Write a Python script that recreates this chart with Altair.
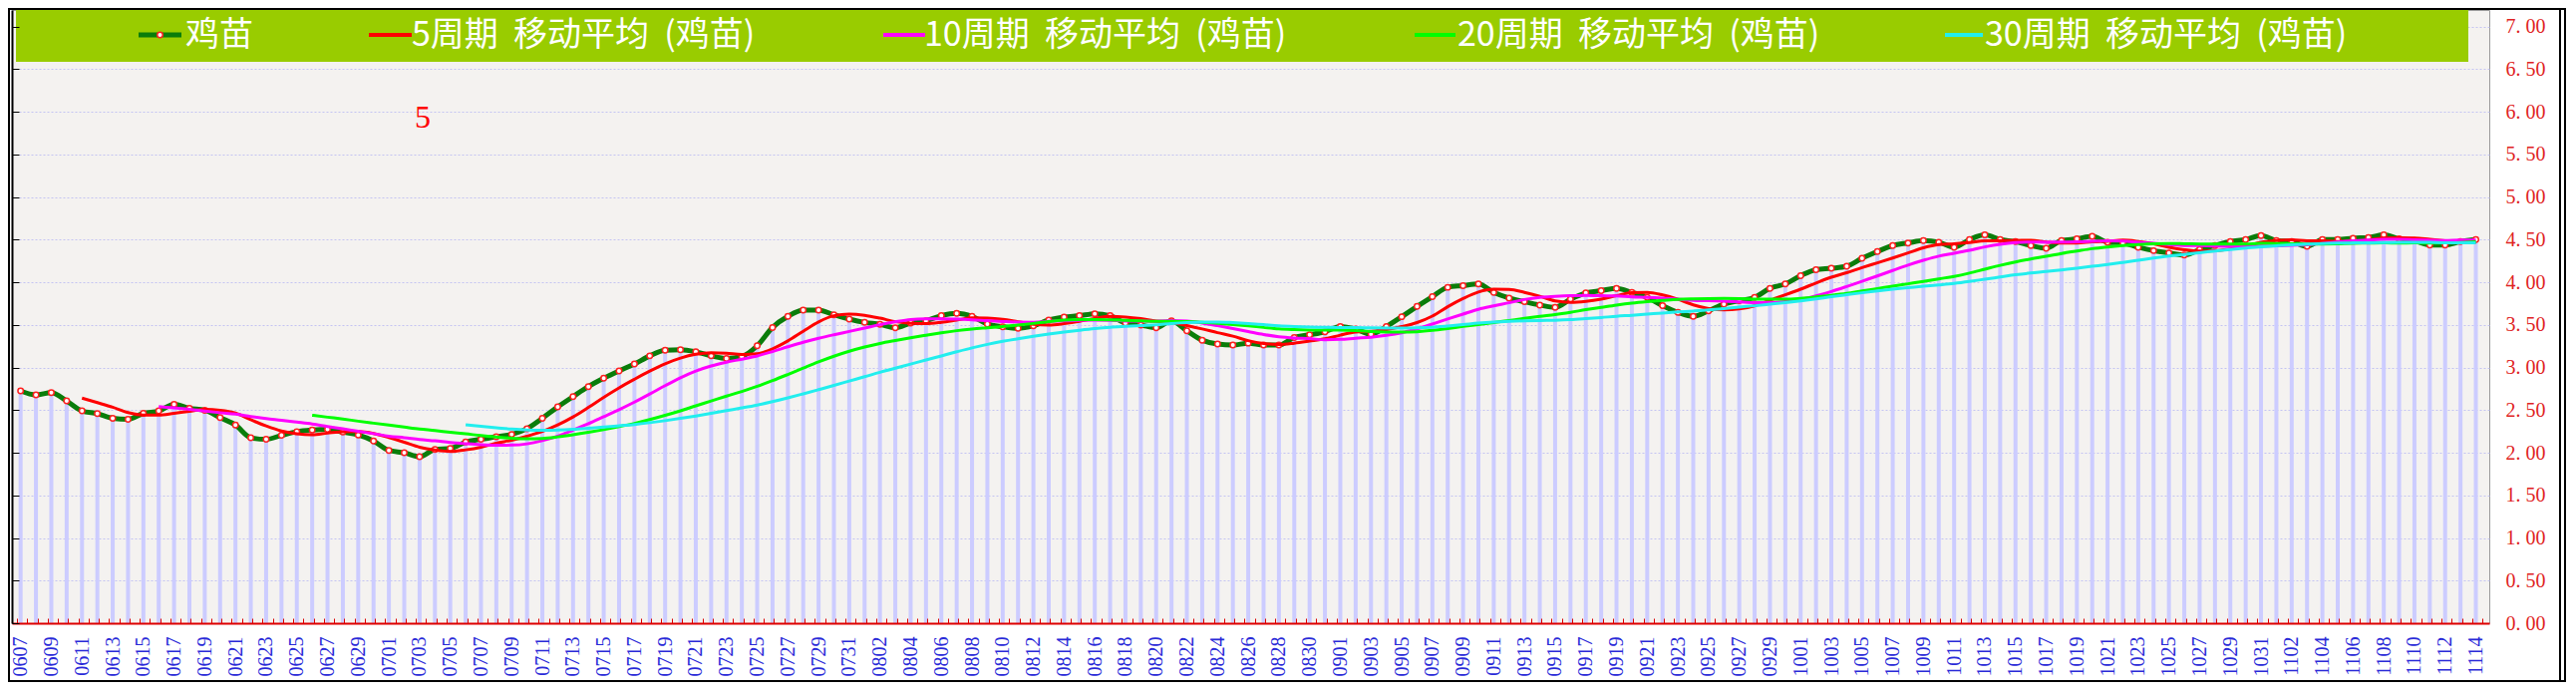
import datetime
import altair as alt
import pandas as pd

# ---------------- data ----------------
START = datetime.date(2023, 6, 7)
N_DAYS = 161
dates = [(START + datetime.timedelta(days=i)).strftime("%m%d") for i in range(N_DAYS)]

# 0607 - 0717
prices_a = [2.725, 2.678, 2.705, 2.607, 2.49, 2.458, 2.404, 2.392, 2.462, 2.49,
            2.568, 2.521, 2.498, 2.411, 2.325, 2.176, 2.157, 2.204, 2.247, 2.266,
            2.274, 2.243, 2.208, 2.137, 2.027, 2.0, 1.953, 2.039, 2.051, 2.125,
            2.157, 2.188, 2.215, 2.282, 2.404, 2.537, 2.658, 2.776, 2.874, 2.96,
            3.04]
# 0718 - 0826
prices_b = [3.136, 3.203, 3.207, 3.183, 3.136, 3.105, 3.129, 3.254, 3.469, 3.599,
            3.673, 3.673, 3.618, 3.567, 3.528, 3.505, 3.466, 3.52, 3.548, 3.607,
            3.634, 3.599, 3.509, 3.477, 3.458, 3.489, 3.556, 3.591, 3.607, 3.63,
            3.607, 3.52, 3.497, 3.466, 3.548, 3.43, 3.32, 3.274, 3.262, 3.285]
# 0827 - 1005
prices_c = [3.262, 3.262, 3.352, 3.383, 3.418, 3.48, 3.45, 3.39, 3.48, 3.595,
            3.716, 3.83, 3.94, 3.96, 3.98, 3.88, 3.814, 3.771, 3.732, 3.705,
            3.80, 3.873, 3.90, 3.928, 3.88, 3.822, 3.724, 3.646, 3.599, 3.665,
            3.744, 3.783, 3.822, 3.928, 3.98, 4.077, 4.147, 4.163, 4.187, 4.28]
# 1006 - 1114
prices_d = [4.359, 4.43, 4.46, 4.488, 4.469, 4.41, 4.5, 4.555, 4.5, 4.476,
            4.43, 4.398, 4.488, 4.508, 4.539, 4.469, 4.46, 4.41, 4.37, 4.343,
            4.32, 4.382, 4.43, 4.476, 4.5, 4.547, 4.488, 4.476, 4.421, 4.5,
            4.5, 4.516, 4.524, 4.555, 4.508, 4.488, 4.437, 4.437, 4.476, 4.5]

prices = prices_a + prices_b + prices_c + prices_d

ma_periods = [5, 10, 20, 30]
NB = "\u00a0"
legend_labels = ["鸡苗",
                 "5周期" + NB + NB + "移动平均" + NB + NB + "(鸡苗)",
                 "10周期" + NB + NB + "移动平均" + NB + NB + "(鸡苗)",
                 "20周期" + NB + NB + "移动平均" + NB + NB + "(鸡苗)",
                 "30周期" + NB + NB + "移动平均" + NB + NB + "(鸡苗)"]
y_tick_values = [i * 0.5 for i in range(15)]
annotation = "5"

df = pd.DataFrame({"idx": list(range(len(prices))), "date": dates, "price": prices})

# ---------------- styling ----------------
W, H = 2485, 615
MAIN_GREEN = "#0a7d0a"
MA_COLORS = ["#ff0000", "#ff00ff", "#00ff00", "#22eeee"]
LEGEND_BG = "#99cc00"
BAR_COLOR = "#ccccff"
GRID_COLOR = "#c4c4f2"
SERIF = "Liberation Serif"
CJK = "Noto Sans CJK SC"

xs = alt.Scale(domain=[-0.239, 160.55], nice=False, zero=False)
ys = alt.Scale(domain=[0, 7.193], nice=False, zero=False)

label_expr = "[" + ",".join("'%s'" % d for d in dates) + "][round(datum.value)]"
tick_grid = [round(-0.239 + k * 2.0 / 3.0, 4) for k in range(242)]

base = alt.Chart(df)

bars = base.mark_bar(size=4, color=BAR_COLOR).encode(
    x=alt.X("idx:Q", scale=xs, axis=alt.Axis(
        orient="bottom", values=list(range(0, len(dates), 2)), labelExpr=label_expr,
        labelAngle=270, labelAlign="right", labelBaseline="middle", labelPadding=13,
        labelColor="#2a2ad8", labelFont=SERIF, labelFontSize=20, labelOverlap=False,
        labelFlush=False, ticks=False, domain=False, grid=False, title=None)),
    y=alt.Y("price:Q", scale=ys, axis=alt.Axis(
        orient="right", values=y_tick_values,
        labelExpr="replace(format(datum.value, '.2f'), '.', '. ')",
        labelColor="#e02424", labelFont=SERIF, labelFontSize=20, labelPadding=16,
        ticks=False, domain=False, grid=True, gridColor=GRID_COLOR, gridDash=[2, 2],
        gridWidth=1, title=None)),
)

main_line = base.mark_line(color=MAIN_GREEN, strokeWidth=5, interpolate="monotone").encode(
    x=alt.X("idx:Q", scale=xs, axis=alt.Axis(
        orient="top", offset=-H, values=tick_grid, labels=False, ticks=True,
        tickColor="#dd0000", tickSize=5, tickWidth=1, domain=True, domainColor="#dd0000",
        domainWidth=2, grid=False, title=None, zindex=1)),
    y=alt.Y("price:Q", scale=ys, axis=alt.Axis(
        orient="right", offset=-W, values=y_tick_values, labels=False, ticks=True,
        tickColor="black", tickSize=7, tickWidth=1, domain=True, domainColor="black",
        domainWidth=2, grid=False, title=None, zindex=1)),
)

points = base.mark_point(shape="circle", filled=True, fill="white", stroke="#ff2020",
                         strokeWidth=1.5, size=30, opacity=1).encode(
    x=alt.X("idx:Q", scale=xs, axis=None),
    y=alt.Y("price:Q", scale=ys, axis=None),
)

ma_layers = []
for period, color in zip(ma_periods, MA_COLORS):
    ma_layers.append(
        base.transform_window(ma="mean(price)", rn="row_number()",
                              frame=[-(period - 1), 0], sort=[alt.SortField("idx")])
        .transform_filter(alt.datum.rn >= period)
        .mark_line(color=color, strokeWidth=3, interpolate="monotone")
        .encode(x=alt.X("idx:Q", scale=xs, axis=None),
                y=alt.Y("ma:Q", scale=ys, axis=None))
    )

one = alt.Data(values=[{"k": 1}])


def hrule(x1, x2, y, color, width):
    return alt.Chart(one).mark_rule(color=color, strokeWidth=width).encode(
        x=alt.value(x1), x2=alt.value(x2), y=alt.value(y))


def vrule(x, y1, y2, color, width):
    return alt.Chart(one).mark_rule(color=color, strokeWidth=width).encode(
        x=alt.value(x), y=alt.value(y1), y2=alt.value(y2))


def label(txt, x, y, size, color, font, align="left", baseline="middle"):
    return alt.Chart(one).mark_text(text=txt, align=align, baseline=baseline, font=font,
                                    fontSize=size, color=color).encode(
        x=alt.value(x), y=alt.value(y))


legend_layers = [
    alt.Chart(one).mark_rect(color=LEGEND_BG).encode(
        x=alt.value(4), x2=alt.value(2464), y=alt.value(-2), y2=alt.value(52)),
]
sym_x = [(127, 170), (358, 401), (874, 916), (1407, 1448), (1939, 1977)]
txt_x = [174, 401, 915, 1450, 1979]
sym_colors = [MAIN_GREEN] + MA_COLORS
for (a, b), tx, col, txt in zip(sym_x, txt_x, sym_colors, legend_labels):
    legend_layers.append(hrule(a, b, 25, col, 5 if col == MAIN_GREEN else 4))
    legend_layers.append(label(txt, tx, 26, 34, "white", CJK))
legend_layers.append(
    alt.Chart(one).mark_point(shape="circle", filled=True, fill="white", stroke="#ff2020",
                              strokeWidth=1.5, size=30, opacity=1).encode(
        x=alt.value(148.5), y=alt.value(25)))

deco = [
    label(annotation, 412, 118, 32, "#ff0000", SERIF, align="center", baseline="alphabetic"),
    vrule(2556, -2, 674, "black", 2),
    alt.Chart(one).mark_rect(filled=False, stroke="black", strokeWidth=2).encode(
        x=alt.value(-3), x2=alt.value(2561), y=alt.value(-1), y2=alt.value(673)),
]

chart = alt.layer(
    bars, main_line, points, *ma_layers, *legend_layers, *deco
).resolve_axis(
    x="independent", y="independent"
).properties(
    width=W, height=H,
    padding={"left": 4, "top": 2, "right": 77, "bottom": 59},
    autosize=alt.AutoSizeParams(type="none"),
    background="white",
).configure_view(
    fill="#f4f2f0", stroke="#9a9a9a", strokeWidth=1
)

chart.save("out.html", embed_options={"renderer": "svg", "actions": False})
